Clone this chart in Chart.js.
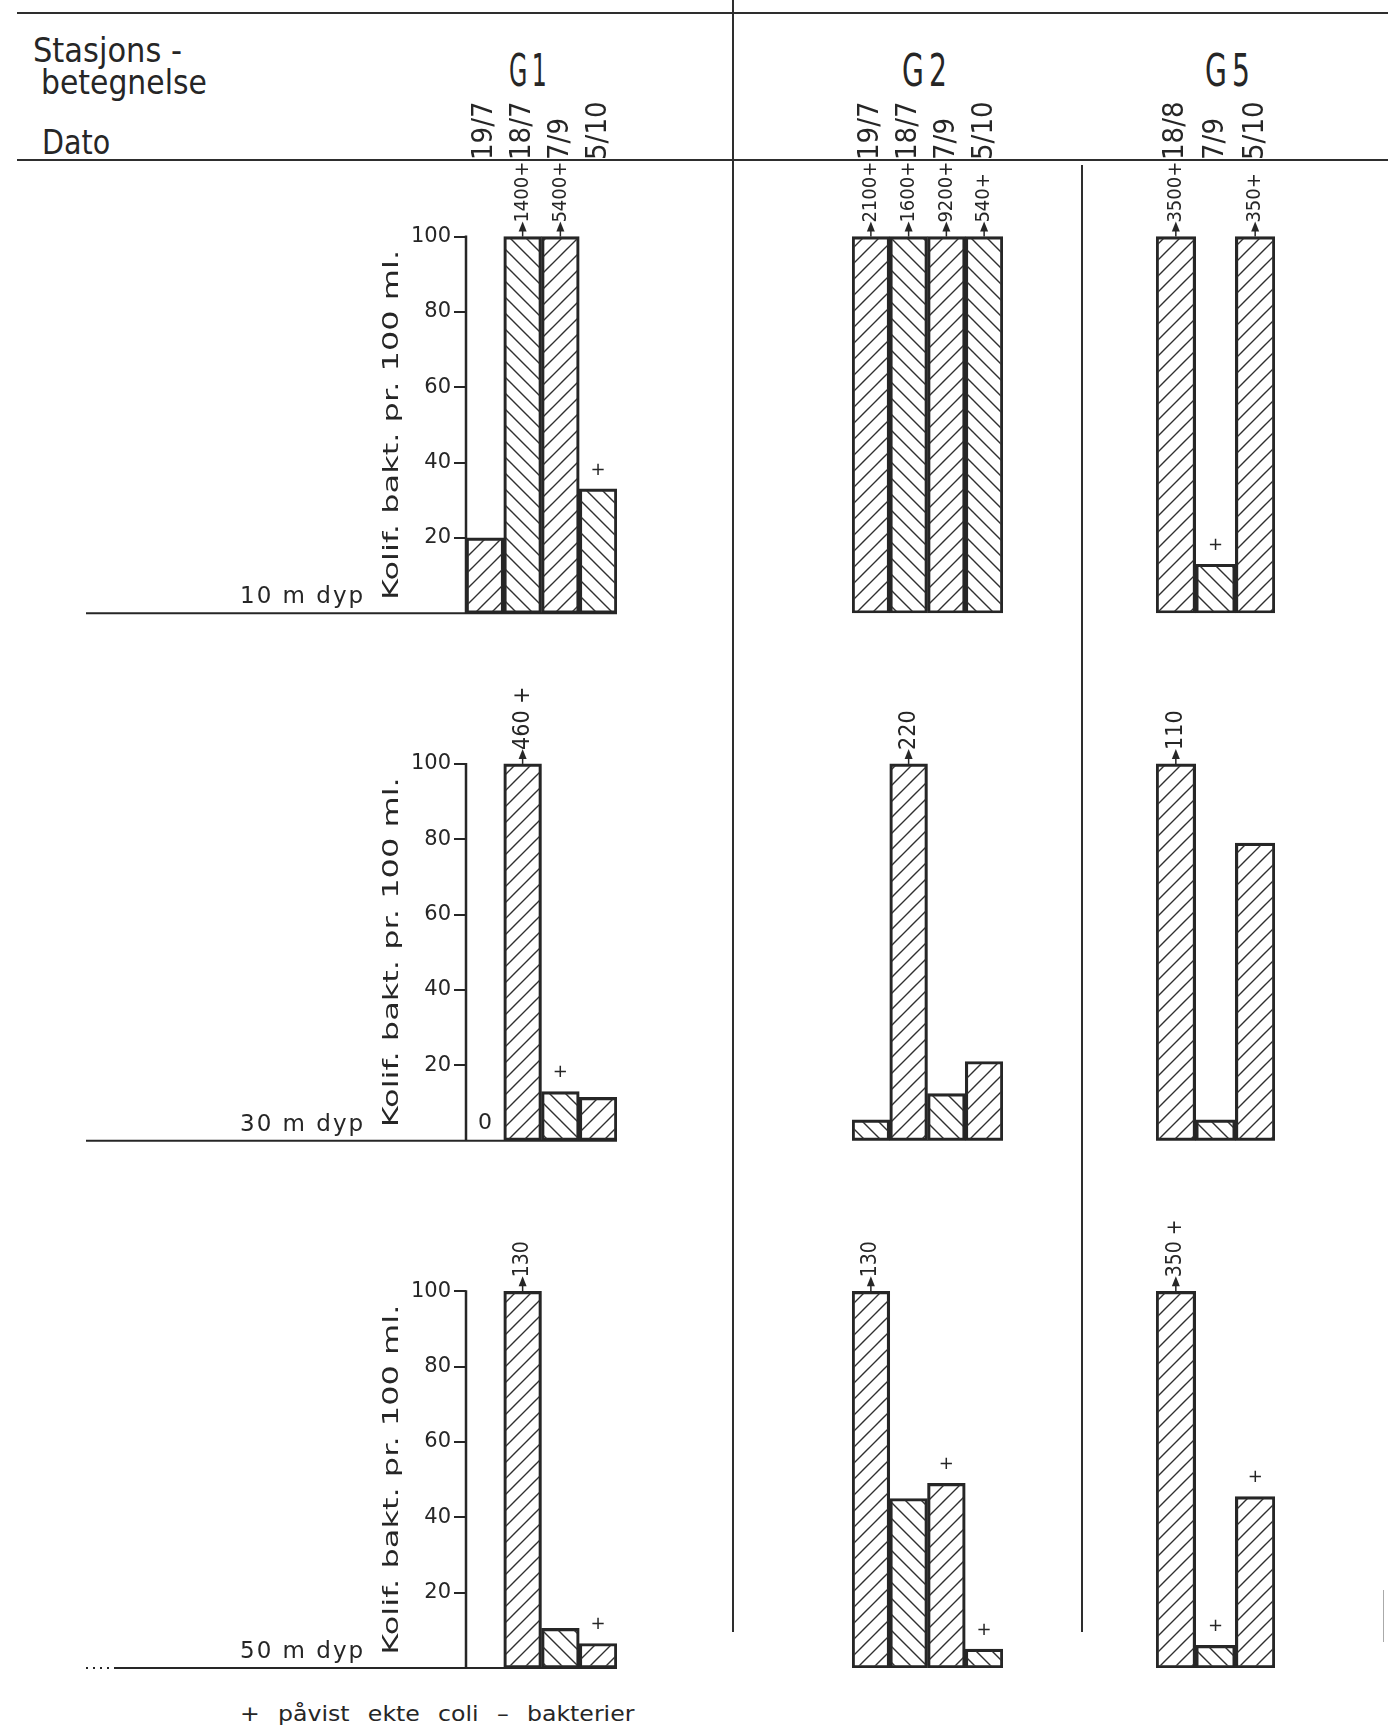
<!DOCTYPE html>
<html lang="no">
<head>
  <meta charset="UTF-8" />
  <title>Kolif. bakterier - G1, G2, G5</title>
  <script src="https://cdn.jsdelivr.net/npm/chart.js"></script>
  <style>
    html, body { margin: 0; padding: 0; background: #fff; }
    body { position: relative; width: 1388px; height: 1729px; overflow: hidden;
           font-family: "DejaVu Sans", sans-serif; color: #262626; }
    canvas { position: absolute; top: 0; }
    .line { position: absolute; background: #2e2e2e; }
    .txt { position: absolute; white-space: nowrap; line-height: 1; transform-origin: 0 0; }
    .head { font-size: 34px; }
    .stn { font-size: 44px; letter-spacing: 8px; }
  </style>
</head>
<body>
  <div class="line" style="left:17px; top:12px; width:1371px; height:2px"></div>
  <div class="line" style="left:17px; top:159px; width:1371px; height:2px"></div>
  <div class="line" style="left:732px; top:0; width:2px; height:1632px"></div>
  <div class="line" style="left:1081px; top:165px; width:2px; height:1467px"></div>
  <div class="line" style="left:1383px; top:1590px; width:1px; height:52px; background:#aaa"></div>

  <div class="txt head" id="hStasjon" style="left:33px; top:33px">Stasjons -</div>
  <div class="txt head" id="hBeteg" style="left:41px; top:65px">betegnelse</div>
  <div class="txt head" id="hDato" style="left:42px; top:125px">Dato</div>
  <div class="txt stn" id="sG1" style="left:509px; top:49px">G1</div>
  <div class="txt stn" id="sG2" style="left:902px; top:49px">G2</div>
  <div class="txt stn" id="sG5" style="left:1205px; top:49px">G5</div>
  <div class="txt" id="legend" style="left:240px; top:1703px; font-size:22px; word-spacing:10px">+ påvist ekte coli – bakterier</div>

  <canvas id="chartG1" width="733" height="1729" style="left:0"></canvas>
  <canvas id="chartG2" width="349" height="1729" style="left:733px"></canvas>
  <canvas id="chartG5" width="306" height="1729" style="left:1082px"></canvas>

  <script>
    const INK = '#262626';
    const FONT = '"DejaVu Sans", sans-serif';
    const NARROW = '"DejaVu Sans Condensed", "DejaVu Sans", sans-serif';

    const depths = ['10 m dyp', '30 m dyp', '50 m dyp'];
    const depthKeys = ['y10', 'y30', 'y50'];
    const yTicks = [20, 40, 60, 80, 100];
    const yTitle = 'Kolif. bakt. pr. 100 ml.';

    const g1Dates = ['19/7', '18/7', '7/9', '5/10'];
    const g2Dates = ['19/7', '18/7', '7/9', '5/10'];
    const g5Dates = ['18/8', '7/9', '5/10'];

    // one row per depth (10, 30, 50 m); counts over 100 are cut at 100
    const g1Values = [[20, 100, 100, 33], [0, 100, 13, 11.5], [null, 100, 10.5, 6.5]];
    const g2Values = [[100, 100, 100, 100], [5.5, 100, 12.5, 21], [100, 45, 49, 5]];
    const g5Values = [[100, 13, 100], [100, 5.5, 79], [100, 6, 45.5]];

    // real counts written over the cut bars
    const g1Counts = [['', '1400+', '5400+', ''], ['', '460 +', '', ''], ['', '130', '', '']];
    const g2Counts = [['2100+', '1600+', '9200+', '540+'], ['', '220', '', ''], ['130', '', '', '']];
    const g5Counts = [['3500+', '', '350+'], ['110', '', ''], ['350 +', '', '']];

    // 1 = påvist ekte coli-bakterier (+)
    const g1Coli = [[0, 0, 0, 1], [0, 0, 1, 0], [0, 0, 0, 1]];
    const g2Coli = [[0, 0, 0, 0], [0, 0, 0, 0], [0, 0, 1, 1]];
    const g5Coli = [[0, 1, 0], [0, 0, 0], [0, 1, 1]];

    // hatch direction of each bar
    const g1Hatch = [['/', '\\', '/', '\\'], ['/', '/', '\\', '/'], ['/', '/', '\\', '/']];
    const g2Hatch = [['/', '\\', '/', '\\'], ['\\', '/', '\\', '/'], ['/', '\\', '/', '\\']];
    const g5Hatch = [['/', '\\', '/'], ['/', '\\', '/'], ['/', '\\', '/']];

    const rowMax = [119, 140, 140];
    const countSizes = [20, 23, 21];

    function fitText(id, width) {
      const el = document.getElementById(id);
      el.style.transform = `scaleX(${width / el.offsetWidth})`;
    }

    function hatchPattern(ctx, dir) {
      const s = 16;
      const tile = document.createElement('canvas');
      tile.width = s; tile.height = s;
      const g = tile.getContext('2d');
      g.strokeStyle = '#303030';
      g.lineWidth = 1.4;
      g.beginPath();
      if (dir === '/') {
        g.moveTo(-1, s + 1); g.lineTo(s + 1, -1);
        g.moveTo(-1, 1); g.lineTo(1, -1);
        g.moveTo(s - 1, s + 1); g.lineTo(s + 1, s - 1);
      } else {
        g.moveTo(-1, -1); g.lineTo(s + 1, s + 1);
        g.moveTo(s - 1, -1); g.lineTo(s + 1, 1);
        g.moveTo(-1, s - 1); g.lineTo(1, s + 1);
      }
      g.stroke();
      return ctx.createPattern(tile, 'repeat');
    }

    // arrows with counts, "+" marks and the "0" label
    const marks = {
      id: 'marks',
      afterDatasetsDraw(chart) {
        const ctx = chart.ctx;
        ctx.save();
        ctx.fillStyle = INK;
        ctx.strokeStyle = INK;
        chart.data.datasets.forEach((ds, d) => {
          chart.getDatasetMeta(d).data.forEach((bar, i) => {
            const v = ds.data[i];
            if (v === null) return;
            const x = bar.x, top = bar.y;
            if (v === 0) {
              ctx.font = `22px ${FONT}`;
              ctx.textAlign = 'center';
              ctx.textBaseline = 'alphabetic';
              ctx.fillText('0', x, top - 12);
            }
            if (ds.counts[i]) {
              ctx.lineWidth = 1.5;
              ctx.beginPath(); ctx.moveTo(x, top); ctx.lineTo(x, top - 8); ctx.stroke();
              ctx.beginPath();
              ctx.moveTo(x, top - 15); ctx.lineTo(x - 4, top - 5); ctx.lineTo(x + 4, top - 5);
              ctx.closePath(); ctx.fill();
              ctx.save();
              ctx.translate(x, top - 14);
              ctx.rotate(-Math.PI / 2);
              ctx.font = `${ds.countSize}px ${NARROW}`;
              ctx.textAlign = 'left';
              ctx.textBaseline = 'middle';
              ctx.fillText(ds.counts[i], 0, 0);
              ctx.restore();
            }
            if (ds.coli[i]) {
              ctx.font = `18px ${FONT}`;
              ctx.textAlign = 'center';
              ctx.textBaseline = 'middle';
              ctx.fillText('+', x, top - 19);
            }
          });
        });
        ctx.restore();
      }
    };

    // y axis line, ground lines, depth names and axis title (G1 only)
    const frame = {
      id: 'frame',
      afterDatasetsDraw(chart) {
        const ctx = chart.ctx;
        const { left, right } = chart.chartArea;
        ctx.save();
        ctx.strokeStyle = INK;
        ctx.fillStyle = INK;
        depthKeys.forEach((key, r) => {
          const s = chart.scales[key];
          const zero = s.getPixelForValue(0);
          const hundred = s.getPixelForValue(100);

          ctx.lineWidth = 2.5;
          ctx.beginPath(); ctx.moveTo(left, hundred - 1); ctx.lineTo(left, zero); ctx.stroke();

          ctx.lineWidth = 2;
          ctx.beginPath();
          if (r === 2) {
            ctx.setLineDash([2, 5]);
            ctx.moveTo(86, zero); ctx.lineTo(110, zero); ctx.stroke();
            ctx.setLineDash([]);
            ctx.beginPath();
            ctx.moveTo(114, zero);
          } else {
            ctx.moveTo(86, zero);
          }
          ctx.lineTo(right, zero);
          ctx.stroke();

          ctx.font = `23px ${FONT}`;
          ctx.letterSpacing = '2px';
          ctx.textAlign = 'left';
          ctx.textBaseline = 'alphabetic';
          ctx.fillText(depths[r], 240, zero - 10);
          ctx.letterSpacing = '0px';

          ctx.save();
          ctx.font = `21px ${FONT}`;
          const w = ctx.measureText(yTitle).width;
          ctx.translate(393, s.getPixelForValue(50));
          ctx.rotate(-Math.PI / 2);
          ctx.scale(350 / w, 1);
          ctx.textAlign = 'center';
          ctx.textBaseline = 'middle';
          ctx.fillText(yTitle, 0, 0);
          ctx.restore();
        });
        ctx.restore();
      }
    };

    function stationChart(id, dates, values, counts, coli, hatch, padding, withAxis) {
      const canvas = document.getElementById(id);
      const ctx = canvas.getContext('2d');

      const scales = {
        x: {
          position: 'top',
          offset: true,
          afterFit: s => { s.height = 165; },
          grid: { display: false, drawTicks: false },
          border: { display: false },
          ticks: {
            minRotation: 90, maxRotation: 90, autoSkip: false, padding: 5,
            color: INK, font: { family: NARROW, size: 29, lineHeight: 0 }
          }
        }
      };
      depthKeys.forEach((key, r) => {
        scales[key] = {
          position: 'left',
          stack: 'depth',
          stackWeight: rowMax[r],
          weight: 3 - r,
          min: 0,
          max: rowMax[r],
          afterBuildTicks: withAxis ? s => { s.ticks = yTicks.map(value => ({ value })); } : undefined,
          afterFit: s => { s.width = withAxis ? 70 : 0; },
          grid: { display: withAxis, drawOnChartArea: false, tickLength: 12, lineWidth: 2, color: INK },
          border: { display: false },
          ticks: { display: withAxis, padding: 3, color: INK, font: { family: FONT, size: 21 } }
        };
      });

      return new Chart(ctx, {
        type: 'bar',
        data: {
          labels: dates,
          datasets: values.map((row, r) => ({
            label: depths[r],
            data: row,
            yAxisID: depthKeys[r],
            grouped: false,
            categoryPercentage: 1,
            barPercentage: 1,
            backgroundColor: hatch[r].map(d => hatchPattern(ctx, d)),
            borderColor: INK,
            borderWidth: 2.5,
            borderSkipped: false,
            counts: counts[r],
            coli: coli[r],
            countSize: countSizes[r]
          }))
        },
        options: {
          responsive: false,
          animation: false,
          events: [],
          layout: { padding, autoPadding: false },
          plugins: { legend: { display: false }, tooltip: { enabled: false } },
          scales
        },
        plugins: withAxis ? [marks, frame] : [marks]
      });
    }

    stationChart('chartG1', g1Dates, g1Values, g1Counts, g1Coli, g1Hatch,
      { left: 396, right: 116, top: 0, bottom: 61 }, true);
    stationChart('chartG2', g2Dates, g2Values, g2Counts, g2Coli, g2Hatch,
      { left: 119, right: 79, top: 0, bottom: 61 }, false);
    stationChart('chartG5', g5Dates, g5Values, g5Counts, g5Coli, g5Hatch,
      { left: 74, right: 113, top: 0, bottom: 61 }, false);

    fitText('hStasjon', 149);
    fitText('hBeteg', 166);
    fitText('hDato', 68);
    fitText('sG1', 42);
    fitText('sG2', 50);
    fitText('sG5', 50);
    fitText('legend', 394);
  </script>
</body>
</html>
